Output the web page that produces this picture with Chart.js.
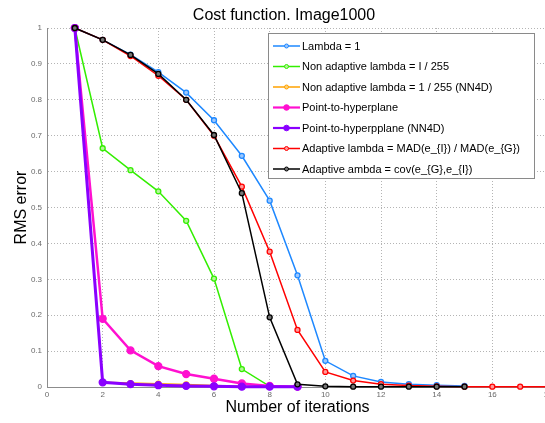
<!DOCTYPE html>
<html>
<head>
<meta charset="utf-8">
<script src="https://cdn.jsdelivr.net/npm/chart.js@4/dist/chart.umd.min.js"></script>
<style>
  html, body { margin: 0; padding: 0; background: #fff; overflow: hidden; }
  #wrap { width: 568px; height: 423px; }
</style>
</head>
<body>
<div id="wrap"><canvas id="mainChart" width="568" height="423"></canvas></div>
<script>
// iterations (x axis)
const iterations = [1, 2, 3, 4, 5, 6, 7, 8, 9, 10, 11, 12, 13, 14, 15, 16, 17, 18];

// RMS error per iteration
const lambdaOne = [1, 0.967, 0.926, 0.877, 0.82, 0.743, 0.644, 0.519, 0.311, 0.073, 0.031, 0.014, 0.008, 0.005, 0.003];
const nonAdaptive = [1, 0.665, 0.604, 0.545, 0.463, 0.302, 0.05, 0.002, 0.001];
const nonAdaptiveNN4D = [1, 0.013, 0.011, 0.009, 0.007, 0.004, 0.002, 0.001];
const pointToPlane = [1, 0.19, 0.102, 0.058, 0.036, 0.023, 0.01, 0.003, 0.001];
const pointToPlaneNN4D = [1, 0.013, 0.008, 0.005, 0.003, 0.002, 0.001, 0.001, 0.001];
const adaptiveMad = [1, 0.967, 0.922, 0.867, 0.80, 0.70, 0.558, 0.377, 0.159, 0.042, 0.018, 0.008, 0.004, 0.002, 0.001, 0.001, 0.001, 0.001];
const adaptiveCov = [1, 0.967, 0.925, 0.872, 0.80, 0.702, 0.54, 0.194, 0.0075, 0.002, 0.001, 0.001, 0.001, 0.001, 0.001];

const seriesLabels = [
    'Lambda = 1',
    'Non adaptive lambda = I / 255',
    'Non adaptive lambda = 1 / 255 (NN4D)',
    'Point-to-hyperplane',
    'Point-to-hyperpplane (NN4D)',
    'Adaptive lambda = MAD(e_{I}) / MAD(e_{G})',
    'Adaptive ambda = cov(e_{G},e_{I})'
];
const chartTitle = 'Cost function. Image1000';
const xTicks = [0, 2, 4, 6, 8, 10, 12, 14, 16, 18];

const FONT = '"Liberation Sans", Arial, Helvetica, sans-serif';

const toPoints = arr => arr.map((v, i) => ({ x: iterations[i], y: v }));

// style per series: colour, line width, marker radius, marker fill
const styles = [
    { c: '#1e88ff', w: 1.5, r: 2.5, fill: '#9cc8ff' },
    { c: '#33ee00', w: 1.5, r: 2.5, fill: '#b5f59a' },
    { c: '#ffa200', w: 1.5, r: 2.5, fill: '#ffd27a' },
    { c: '#ff10d0', w: 2.5, r: 3.5, fill: '#ff10d0' },
    { c: '#8a00ff', w: 3, r: 3.5, fill: '#8a00ff' },
    { c: '#ff0000', w: 1.5, r: 2.5, fill: '#ff9a9a' },
    { c: '#000000', w: 1.5, r: 2.5, fill: '#777777' }
];
const allSeries = [lambdaOne, nonAdaptive, nonAdaptiveNN4D, pointToPlane, pointToPlaneNN4D, adaptiveMad, adaptiveCov];

const datasets = allSeries.map((arr, i) => ({
    label: seriesLabels[i],
    data: toPoints(arr),
    borderColor: styles[i].c,
    backgroundColor: styles[i].c,
    borderWidth: styles[i].w,
    pointRadius: styles[i].r,
    pointBorderWidth: 1.3,
    pointBackgroundColor: styles[i].fill,
    pointBorderColor: styles[i].c,
    tension: 0,
    fill: false,
    clip: 4,
    order: allSeries.length - i // later series on top, like matlab
}));

// title + legend box drawn by hand, matlab style
const boxLegend = {
    id: 'boxLegend',
    afterDraw(chart) {
        const ctx = chart.ctx;
        ctx.save();
        ctx.fillStyle = '#000';
        ctx.font = '16px ' + FONT;
        ctx.textAlign = 'center';
        ctx.textBaseline = 'middle';
        ctx.fillText(chartTitle, 284, 16);

        const x0 = 268.5, y0 = 33.5, w = 266, h = 145;
        ctx.fillStyle = '#fff';
        ctx.fillRect(x0, y0, w, h);
        ctx.strokeStyle = '#8a8a8a';
        ctx.lineWidth = 1;
        ctx.strokeRect(x0, y0, w, h);
        ctx.font = '11px ' + FONT;
        ctx.textAlign = 'left';
        chart.data.datasets.forEach((ds, i) => {
            const y = 46 + i * 20.5;
            ctx.strokeStyle = ds.borderColor;
            ctx.lineWidth = Math.min(ds.borderWidth, 2.2);
            ctx.beginPath();
            ctx.moveTo(273, y);
            ctx.lineTo(300, y);
            ctx.stroke();
            ctx.beginPath();
            ctx.arc(286.5, y, ds.pointRadius * 0.8, 0, Math.PI * 2);
            ctx.fillStyle = ds.pointBackgroundColor;
            ctx.fill();
            ctx.lineWidth = 1;
            ctx.stroke();
            ctx.fillStyle = '#000';
            ctx.fillText(ds.label, 302, y + 0.5);
        });
        ctx.restore();
    }
};

new Chart(document.getElementById('mainChart').getContext('2d'), {
    type: 'line',
    data: { datasets },
    options: {
        responsive: false,
        animation: false,
        events: [],
        layout: { padding: { left: 0, right: 20, top: 28, bottom: 0 } },
        plugins: {
            legend: { display: false },
            tooltip: { enabled: false },
            title: { display: false }
        },
        scales: {
            x: {
                type: 'linear',
                min: 0,
                max: 18,
                afterBuildTicks: s => { s.ticks = xTicks.map(v => ({ value: v })); },
                afterFit: s => { s.height = 36; },
                grid: { color: '#b4b4b4', lineWidth: 1, drawTicks: false },
                border: { display: true, color: '#8c8c8c', width: 1, dash: [1, 2] },
                ticks: { color: '#6a6a6a', font: { family: FONT, size: 8 }, padding: 3, maxRotation: 0 },
                title: {
                    display: true,
                    text: 'Number of iterations',
                    color: '#000',
                    font: { family: FONT, size: 16 },
                    padding: { top: 0, bottom: 6 }
                }
            },
            y: {
                min: 0,
                max: 1,
                afterFit: s => { s.width = 47; },
                grid: { color: '#b4b4b4', lineWidth: 1, drawTicks: false },
                border: { display: true, color: '#8c8c8c', width: 1, dash: [1, 2] },
                ticks: {
                    stepSize: 0.1,
                    color: '#6a6a6a',
                    font: { family: FONT, size: 8 },
                    padding: 5,
                    callback: v => String(Number(v.toFixed(1)))
                },
                title: {
                    display: true,
                    text: 'RMS error',
                    color: '#000',
                    font: { family: FONT, size: 16 },
                    padding: { top: 12, bottom: 0 }
                }
            }
        }
    },
    plugins: [boxLegend]
});
</script>
</body>
</html>
